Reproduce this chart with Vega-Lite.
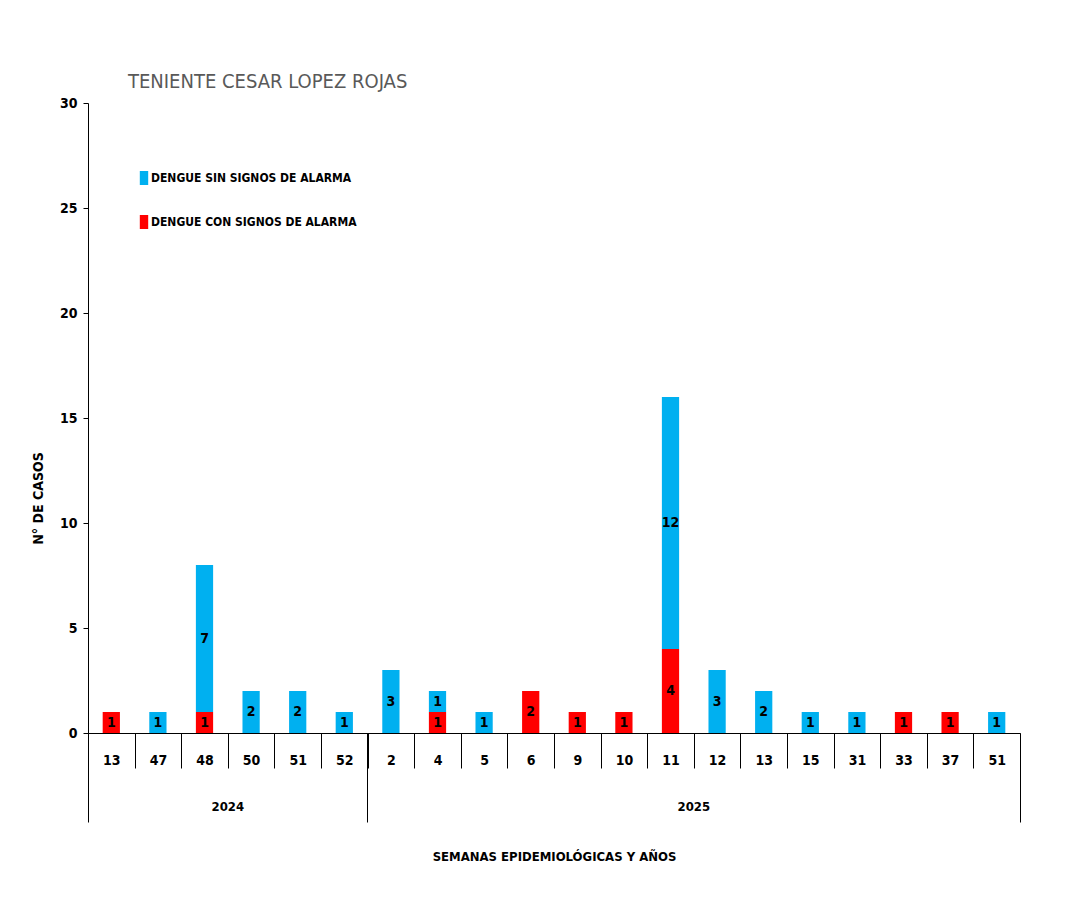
{
  "$schema": "https://vega.github.io/schema/vega-lite/v6.json",
  "width": 932,
  "height": 630,
  "autosize": "none",
  "padding": {"left": 88, "top": 103, "right": 48, "bottom": 168},
  "background": "white",
  "config": {
    "font": "Liberation Sans Narrow, DejaVu Sans Condensed, Noto Sans Condensed, Open Sans Condensed, Roboto Condensed, Liberation Sans, sans-serif",
    "view": {"stroke": null}
  },
  "title": {
    "text": "TENIENTE CESAR LOPEZ ROJAS",
    "anchor": "start",
    "frame": "group",
    "dx": 40,
    "offset": -12,
    "baseline": "alphabetic",
    "fontSize": 20,
    "fontWeight": "normal",
    "color": "#595959"
  },
  "data": {
    "values": [
      {"periodo": "2024-13", "tipo": "DENGUE CON SIGNOS DE ALARMA", "casos": 1},
      {"periodo": "2024-47", "tipo": "DENGUE SIN SIGNOS DE ALARMA", "casos": 1},
      {"periodo": "2024-48", "tipo": "DENGUE CON SIGNOS DE ALARMA", "casos": 1},
      {"periodo": "2024-48", "tipo": "DENGUE SIN SIGNOS DE ALARMA", "casos": 7},
      {"periodo": "2024-50", "tipo": "DENGUE SIN SIGNOS DE ALARMA", "casos": 2},
      {"periodo": "2024-51", "tipo": "DENGUE SIN SIGNOS DE ALARMA", "casos": 2},
      {"periodo": "2024-52", "tipo": "DENGUE SIN SIGNOS DE ALARMA", "casos": 1},
      {"periodo": "2025-02", "tipo": "DENGUE SIN SIGNOS DE ALARMA", "casos": 3},
      {"periodo": "2025-04", "tipo": "DENGUE CON SIGNOS DE ALARMA", "casos": 1},
      {"periodo": "2025-04", "tipo": "DENGUE SIN SIGNOS DE ALARMA", "casos": 1},
      {"periodo": "2025-05", "tipo": "DENGUE SIN SIGNOS DE ALARMA", "casos": 1},
      {"periodo": "2025-06", "tipo": "DENGUE CON SIGNOS DE ALARMA", "casos": 2},
      {"periodo": "2025-09", "tipo": "DENGUE CON SIGNOS DE ALARMA", "casos": 1},
      {"periodo": "2025-10", "tipo": "DENGUE CON SIGNOS DE ALARMA", "casos": 1},
      {"periodo": "2025-11", "tipo": "DENGUE CON SIGNOS DE ALARMA", "casos": 4},
      {"periodo": "2025-11", "tipo": "DENGUE SIN SIGNOS DE ALARMA", "casos": 12},
      {"periodo": "2025-12", "tipo": "DENGUE SIN SIGNOS DE ALARMA", "casos": 3},
      {"periodo": "2025-13", "tipo": "DENGUE SIN SIGNOS DE ALARMA", "casos": 2},
      {"periodo": "2025-15", "tipo": "DENGUE SIN SIGNOS DE ALARMA", "casos": 1},
      {"periodo": "2025-31", "tipo": "DENGUE SIN SIGNOS DE ALARMA", "casos": 1},
      {"periodo": "2025-33", "tipo": "DENGUE CON SIGNOS DE ALARMA", "casos": 1},
      {"periodo": "2025-37", "tipo": "DENGUE CON SIGNOS DE ALARMA", "casos": 1},
      {"periodo": "2025-51", "tipo": "DENGUE SIN SIGNOS DE ALARMA", "casos": 1}
    ]
  },
  "transform": [
    {"stack": "casos", "groupby": ["periodo"], "sort": [{"field": "tipo", "order": "ascending"}], "as": ["c0", "c1"]},
    {"calculate": "(datum.c0 + datum.c1) / 2", "as": "cmid"}
  ],
  "resolve": {"axis": {"x": "independent", "y": "independent"}},
  "layer": [
    {
      "mark": {"type": "bar", "width": {"band": 0.37}},
      "encoding": {
        "x": {
          "field": "periodo",
          "type": "nominal",
          "sort": "ascending",
          "scale": {"paddingInner": 0, "paddingOuter": 0},
          "axis": {
            "orient": "bottom",
            "title": null,
            "labelExpr": "datum.label ? '' + toNumber(split(datum.label, '-')[1]) : ''",
            "labelAngle": 0,
            "labelFontSize": 14,
            "labelFontWeight": "bold",
            "labelColor": "black",
            "labelPadding": -15,
            "tickBand": "extent",
            "tickSize": 35,
            "tickColor": "black",
            "domainColor": "black",
            "domainWidth": 1
          }
        },
        "y": {
          "field": "c1",
          "type": "quantitative",
          "scale": {"domain": [0, 30], "nice": false},
          "axis": {
            "orient": "left",
            "values": [0, 5, 10, 15, 20, 25, 30],
            "grid": false,
            "title": "N° DE CASOS",
            "titleFontSize": 14,
            "titleFontWeight": "bold",
            "titleColor": "black",
            "titlePadding": 14,
            "titleY": 395,
            "labelFontSize": 14,
            "labelFontWeight": "bold",
            "labelColor": "black",
            "labelPadding": 6,
            "tickSize": 5,
            "tickColor": "black",
            "domainColor": "black"
          }
        },
        "y2": {"field": "c0"},
        "color": {
          "field": "tipo",
          "type": "nominal",
          "scale": {
            "domain": ["DENGUE SIN SIGNOS DE ALARMA", "DENGUE CON SIGNOS DE ALARMA"],
            "range": ["#00B0F0", "#FF0000"]
          },
          "legend": {
            "orient": "none",
            "legendX": 49,
            "legendY": 68,
            "title": null,
            "padding": 0,
            "symbolType": "M-0.6,-1H0.6V1H-0.6Z",
            "symbolSize": 196,
            "symbolStrokeWidth": 0,
            "labelOffset": 0,
            "labelFontSize": 12,
            "labelFontWeight": "bold",
            "labelColor": "black",
            "rowPadding": 30,
            "labelLimit": 400
          }
        }
      }
    },
    {
      "mark": {"type": "text", "fontSize": 14, "fontWeight": "bold", "color": "black", "baseline": "middle"},
      "encoding": {
        "x": {
          "field": "periodo",
          "type": "nominal",
          "sort": "ascending",
          "axis": {
            "orient": "bottom",
            "title": null,
            "values": ["2024-48", "2025-11"],
            "labelExpr": "split(datum.label, '-')[0]",
            "labelOffset": 23.3,
            "labelAngle": 0,
            "labelFontSize": 13,
            "labelFontWeight": "bold",
            "labelColor": "black",
            "labelPadding": 67,
            "ticks": false,
            "tickSize": 0,
            "domain": false
          }
        },
        "y": {"field": "cmid", "type": "quantitative", "axis": null},
        "text": {"field": "casos", "type": "quantitative"}
      }
    },
    {
      "mark": {"type": "bar", "opacity": 0},
      "encoding": {
        "x": {
          "field": "periodo",
          "type": "nominal",
          "sort": "ascending",
          "axis": {
            "orient": "bottom",
            "title": "SEMANAS EPIDEMIOLÓGICAS  Y AÑOS",
            "titleFontSize": 13,
            "titleFontWeight": "bold",
            "titleColor": "black",
            "titlePadding": 28,
            "values": ["2024-13", "2025-02"],
            "bandPosition": 0,
            "labels": false,
            "tickSize": 89,
            "tickColor": "black",
            "domain": false
          }
        }
      }
    },
    {
      "mark": {"type": "bar", "opacity": 0},
      "encoding": {
        "x": {
          "field": "periodo",
          "type": "nominal",
          "sort": "ascending",
          "axis": {
            "orient": "bottom",
            "title": null,
            "values": ["2025-51"],
            "bandPosition": 1,
            "labels": false,
            "tickSize": 89,
            "tickColor": "black",
            "domain": false
          }
        }
      }
    }
  ]
}
